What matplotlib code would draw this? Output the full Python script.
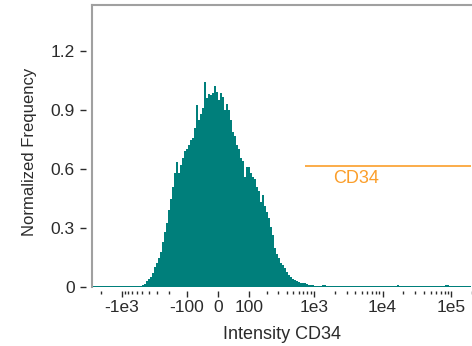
import numpy as np
import matplotlib
matplotlib.use("Agg")
from matplotlib import pyplot as plt

plt.rcParams["font.family"] = ["Liberation Sans", "DejaVu Sans"]

# normalized histogram heights, one per bin (bins are even steps on the asinh axis)
left_tail = [0.003] * 20 + [0.004, 0.004, 0.005, 0.005]
peak = [0.005, 0.01, 0.015, 0.03, 0.04, 0.05, 0.07, 0.10, 0.12, 0.15,
        0.18, 0.23, 0.28, 0.325, 0.39, 0.45, 0.51, 0.58, 0.635, 0.58,
        0.62, 0.655, 0.69, 0.70, 0.72, 0.745, 0.76, 0.81, 0.925, 0.85,
        0.88, 0.91, 1.04, 0.96, 0.98, 0.975, 0.985, 1.02, 0.99, 0.95,
        0.985, 0.966, 0.90, 0.93, 0.90, 0.85, 0.79, 0.77, 0.72, 0.70,
        0.655, 0.64, 0.56, 0.61, 0.61, 0.58, 0.56, 0.55, 0.51, 0.49,
        0.43, 0.47, 0.41, 0.38, 0.35, 0.305, 0.265, 0.20, 0.17, 0.15,
        0.12, 0.11, 0.095, 0.075, 0.06, 0.05, 0.04, 0.035, 0.03, 0.025]
right_tail = ([0.02, 0.022, 0.018, 0.015, 0.012, 0.01, 0.008, 0.006, 0.005, 0.005,
               0.006, 0.009, 0.008, 0.005] + [0.004] * 34 +
              [0.007, 0.008, 0.005] + [0.004] * 5 + [0.007] + [0.004] * 16 +
              [0.008, 0.009, 0.006] + [0.004] * 10)
heights = np.array(left_tail + peak + right_tail)

x_min, x_max = -2704, 195700
lin_width = 80

major_ticks = [-1000, -100, 0, 100, 1000, 1e4, 1e5]
major_labels = ["-1e3", "-100", "0", "100", "1e3", "1e4", "1e5"]
minor_ticks = ([-2000] + [-100 * k for k in range(2, 10)] + [100 * k for k in range(2, 10)] +
               [1000 * k for k in range(2, 10)] + [10000 * k for k in range(2, 10)] + [2e5])
y_ticks = [0, 0.3, 0.6, 0.9, 1.2]
y_labels = ["0", "0.3", "0.6", "0.9", "1.2"]

gate_lo, gate_hi, gate_y = 733, 195700, 0.615
gate_label = "CD34"
label_x, label_y = 4180, 0.554

teal = "#007f7b"
orange = "#fb9e2a"
frame = "#a0a0a0"
txt = "#2b2b2b"


def main():
    fig = plt.figure(figsize=(4.72, 3.46), dpi=100)
    ax = fig.add_axes([92 / 472, 59 / 346, 380 / 472, 282 / 346])
    ax.set_xscale("asinh", linear_width=lin_width)
    ax.set_xlim(x_min, x_max)
    ax.set_ylim(0, 1.434)

    # bin edges evenly spaced in the transformed (asinh) space
    t = np.linspace(np.arcsinh(x_min / lin_width), np.arcsinh(x_max / lin_width), len(heights) + 1)
    edges = lin_width * np.sinh(t)
    ax.stairs(heights, edges, fill=True, color=teal, lw=0)

    ax.hlines(gate_y, gate_lo, gate_hi, color=orange, lw=1.2, clip_on=False)
    ax.text(label_x, label_y, gate_label, color=orange, fontsize=13, ha="center", va="center")

    ax.set_xticks(major_ticks, major_labels)
    ax.set_xticks(minor_ticks, minor=True)
    ax.set_yticks(y_ticks, y_labels)

    ax.spines["right"].set_visible(False)
    ax.spines["top"].set_color(frame)
    ax.spines["top"].set_linewidth(1.5)
    ax.spines["bottom"].set_position(("outward", 3))
    ax.spines["bottom"].set_color("none")
    ax.spines["left"].set_position(("outward", 4))
    ax.spines["left"].set_color("none")
    ax.plot([0, 0], [0, 1], transform=ax.transAxes, color=frame, lw=1.5, clip_on=False)

    ax.tick_params(axis="x", which="major", length=4.5, width=1, color=txt,
                   labelsize=12.5, labelcolor=txt, pad=1.5)
    ax.tick_params(axis="x", which="minor", length=2.5, width=1, color=txt)
    ax.tick_params(axis="y", which="major", length=4.5, width=1, color=txt,
                   labelsize=12.5, labelcolor=txt, pad=4)

    ax.set_xlabel("Intensity CD34", fontsize=13, color=txt)
    ax.set_ylabel("Normalized Frequency", fontsize=12, color=txt)
    ax.xaxis.set_label_coords(0.5, -0.14)
    ax.yaxis.set_label_coords(-0.145, 0.48)

    fig.savefig("out.png", dpi=100)


if __name__ == '__main__':
    main()
